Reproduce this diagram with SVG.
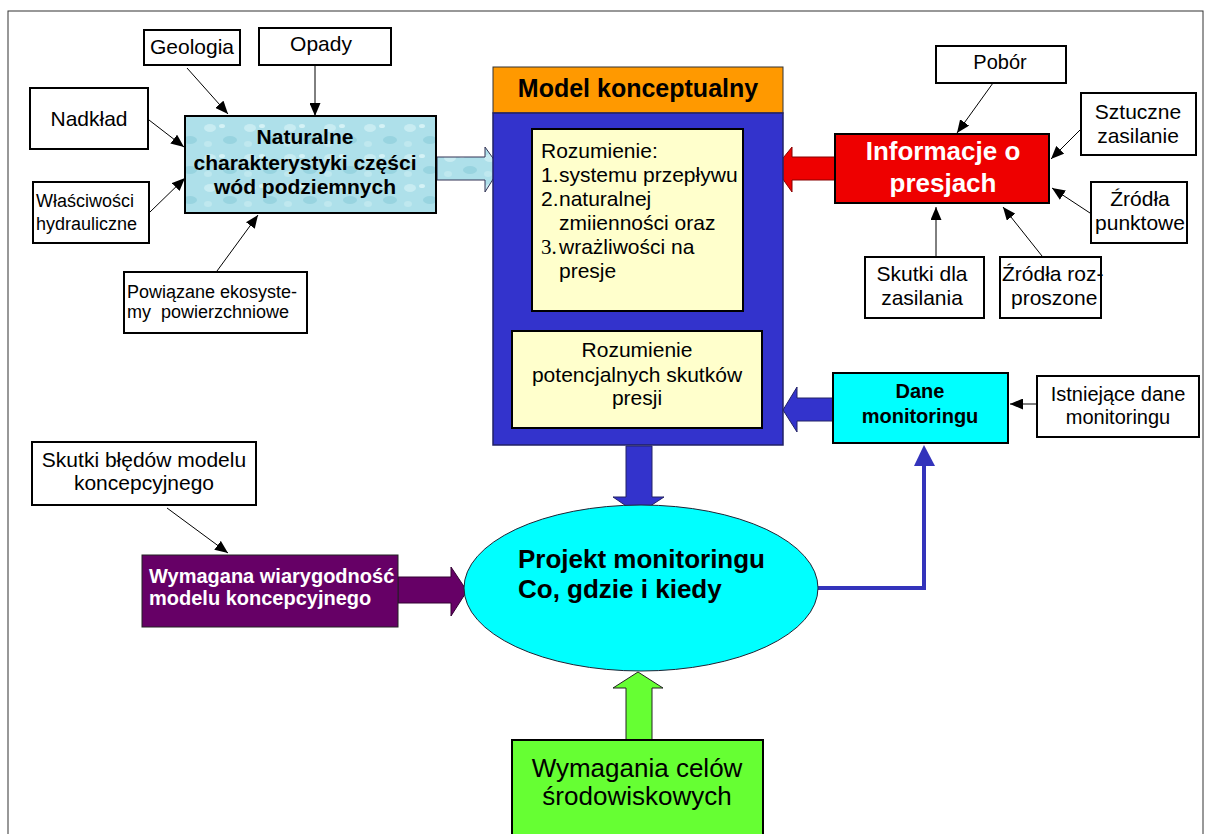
<svg xmlns="http://www.w3.org/2000/svg" width="1206" height="834" viewBox="0 0 1206 834">
<style>
.t{font-family:"Liberation Sans",Arial,sans-serif;fill:#000}
.b{font-weight:bold}
.w{fill:#fff}
.box{fill:#fff;stroke:#000;stroke-width:2}
.ln{stroke:#000;stroke-width:1;fill:none}
</style>
<defs>
<marker id="ah" markerUnits="userSpaceOnUse" markerWidth="13" markerHeight="11" refX="13" refY="5.5" orient="auto">
<path d="M0,0 L13,5.5 L0,11 z" fill="#000"/>
</marker>
<pattern id="bub" patternUnits="userSpaceOnUse" width="40" height="30">
<rect width="40" height="30" fill="#aee0ea"/>
<ellipse cx="10" cy="8" rx="6" ry="4" fill="#c8ecf2"/>
<ellipse cx="30" cy="20" rx="7" ry="4" fill="#98d4e0"/>
<ellipse cx="22" cy="6" rx="3" ry="2" fill="#d4f2f6"/>
<ellipse cx="8" cy="24" rx="4" ry="3" fill="#bfe8ef"/>
</pattern>
</defs>
<rect x="8" y="11" width="1195" height="840" fill="none" stroke="#333" stroke-width="1"/>

<g id="connectors">
<line class="ln" x1="187" y1="68" x2="228" y2="114" marker-end="url(#ah)"/>
<line class="ln" x1="315" y1="65" x2="315" y2="116" marker-end="url(#ah)"/>
<line class="ln" x1="149" y1="120" x2="184" y2="147" marker-end="url(#ah)"/>
<line class="ln" x1="150" y1="212" x2="185" y2="178" marker-end="url(#ah)"/>
<line class="ln" x1="217" y1="271" x2="258" y2="215" marker-end="url(#ah)"/>
<line class="ln" x1="993" y1="83" x2="957" y2="133" marker-end="url(#ah)"/>
<line class="ln" x1="1083" y1="127" x2="1051" y2="159" marker-end="url(#ah)"/>
<line class="ln" x1="1090" y1="213" x2="1052" y2="188" marker-end="url(#ah)"/>
<line class="ln" x1="936" y1="257" x2="936" y2="207" marker-end="url(#ah)"/>
<line class="ln" x1="1042" y1="256" x2="1003" y2="207" marker-end="url(#ah)"/>
<line class="ln" x1="1037" y1="404" x2="1010" y2="404" marker-end="url(#ah)"/>
<line class="ln" x1="167" y1="508" x2="228" y2="553" marker-end="url(#ah)"/>
<polyline points="818,588 924,588 924,464" fill="none" stroke="#3333bb" stroke-width="4"/>
<polygon points="914,466 924,445 935,466" fill="#3333bb"/>
<polygon points="437,157 485,157 485,147 500,168 485,192 485,180 437,180" fill="url(#bub)" stroke="#335" stroke-width="1"/>
<polygon points="835,157 792,157 792,147 775,168 792,192 792,180 835,180" fill="#ee0000" stroke="#800" stroke-width="1"/>
<polygon points="833,398 797,398 797,387 783,410 797,432 797,421 833,421" fill="#3333cc" stroke="#226" stroke-width="1"/>
<polygon points="626,446 652,446 652,497 664,497 638,514 613,497 626,497" fill="#3333cc" stroke="#226" stroke-width="1"/>
<polygon points="398,577 451,577 451,567 467,591 451,616 451,603 398,603" fill="#660066" stroke="#303" stroke-width="1"/>
<polygon points="626,740 626,688 613,688 638,672 663,688 652,688 652,740" fill="#66ff33" stroke="#222" stroke-width="1"/>
</g>

<g id="geologia"><rect class="box" x="144" y="30" width="96" height="35"/><text class="t" x="192" y="54" font-size="21" text-anchor="middle">Geologia</text></g>
<g id="opady"><rect class="box" x="259" y="28" width="132" height="37"/><text class="t" x="321" y="51" font-size="21" text-anchor="middle">Opady</text></g>
<g id="nadklad"><rect class="box" x="30" y="88" width="118" height="61"/><text class="t" x="89" y="126" font-size="21" text-anchor="middle">Nadkład</text></g>
<g id="wlasciwosci"><rect class="box" x="33" y="182" width="116" height="61"/><text class="t" x="36" y="207" font-size="18">Właściwości</text><text class="t" x="36" y="230" font-size="18">hydrauliczne</text></g>
<g id="powiazane"><rect class="box" x="124" y="272" width="183" height="61"/><text class="t" x="127" y="298" font-size="18">Powiązane ekosyste-</text><text class="t" x="127" y="318" font-size="18" xml:space="preserve">my  powierzchniowe</text></g>
<g id="naturalne"><rect x="185" y="116" width="251" height="97" fill="url(#bub)" stroke="#000" stroke-width="2"/>
<text class="t b" x="305" y="144" font-size="21" text-anchor="middle">Naturalne</text>
<text class="t b" x="305" y="170" font-size="21" text-anchor="middle">charakterystyki części</text>
<text class="t b" x="305" y="194" font-size="21" text-anchor="middle">wód podziemnych</text></g>

<g id="model">
<rect x="493" y="67" width="290" height="46" fill="#ff9900" stroke="#333" stroke-width="1"/>
<rect x="493" y="113" width="290" height="332" fill="#3333cc" stroke="#222266" stroke-width="1.5"/>
<text class="t b" x="638" y="97" font-size="25" text-anchor="middle">Model konceptualny</text>
</g>
<g id="rozumienie1"><rect x="532" y="129" width="211" height="182" fill="#ffffcc" stroke="#000" stroke-width="2"/>
<text class="t" x="541" y="158" font-size="21">Rozumienie:</text>
<text class="t" x="541" y="182" font-size="21">1.</text><text class="t" x="559" y="182" font-size="21">systemu przepływu</text>
<text class="t" x="541" y="206" font-size="21">2.</text><text class="t" x="559" y="206" font-size="21">naturalnej</text>
<text class="t" x="559" y="230" font-size="21">zmiienności oraz</text>
<text x="541" y="254" font-size="21" font-family="Liberation Serif,serif">3.</text><text class="t" x="559" y="254" font-size="21">wrażliwości na</text>
<text class="t" x="559" y="278" font-size="21">presje</text></g>
<g id="rozumienie2"><rect x="512" y="331" width="250" height="97" fill="#ffffcc" stroke="#000" stroke-width="2"/>
<text class="t" x="637" y="357" font-size="21" text-anchor="middle">Rozumienie</text>
<text class="t" x="637" y="382" font-size="21" text-anchor="middle">potencjalnych skutków</text>
<text class="t" x="637" y="405" font-size="21" text-anchor="middle">presji</text></g>

<g id="informacje"><rect x="835" y="134" width="214" height="69" fill="#ee0000" stroke="#000" stroke-width="2"/>
<text class="t b w" x="943" y="160" font-size="26" text-anchor="middle">Informacje o</text>
<text class="t b w" x="943" y="192" font-size="26" text-anchor="middle">presjach</text></g>
<g id="pobor"><rect class="box" x="936" y="46" width="130" height="37"/><text class="t" x="1000" y="69" font-size="20" text-anchor="middle">Pobór</text></g>
<g id="sztuczne"><rect class="box" x="1081" y="93" width="115" height="62"/><text class="t" x="1138" y="119" font-size="21" text-anchor="middle">Sztuczne</text><text class="t" x="1138" y="143" font-size="21" text-anchor="middle">zasilanie</text></g>
<g id="punktowe"><rect class="box" x="1091" y="182" width="96" height="61"/><text class="t" x="1140" y="206" font-size="21" text-anchor="middle">Źródła</text><text class="t" x="1140" y="230" font-size="21" text-anchor="middle">punktowe</text></g>
<g id="skutki-zasilania"><rect class="box" x="865" y="257" width="119" height="61"/><text class="t" x="922" y="281" font-size="21" text-anchor="middle">Skutki dla</text><text class="t" x="922" y="305" font-size="21" text-anchor="middle">zasilania</text></g>
<g id="rozproszone"><rect class="box" x="1000" y="257" width="101" height="61"/><text class="t" x="1002" y="281" font-size="21">Źródła roz-</text><text class="t" x="1011" y="305" font-size="21">proszone</text></g>

<g id="dane"><rect x="833" y="373" width="175" height="70" fill="#00ffff" stroke="#000" stroke-width="2"/>
<text class="t b" x="920" y="398" font-size="20" text-anchor="middle">Dane</text>
<text class="t b" x="920" y="423" font-size="20" text-anchor="middle">monitoringu</text></g>
<g id="istniejace"><rect class="box" x="1037" y="376" width="162" height="61"/>
<text class="t" x="1118" y="401" font-size="20" text-anchor="middle">Istniejące dane</text>
<text class="t" x="1118" y="424" font-size="20" text-anchor="middle">monitoringu</text></g>

<g id="skutki-bledow"><rect class="box" x="32" y="442" width="224" height="63"/>
<text class="t" x="144" y="467" font-size="21" text-anchor="middle">Skutki błędów modelu</text>
<text class="t" x="144" y="490" font-size="21" text-anchor="middle">koncepcyjnego</text></g>
<g id="wiarygodnosc"><rect x="142" y="555" width="256" height="72" fill="#660066" stroke="#222" stroke-width="1"/>
<text class="t b w" x="149" y="583" font-size="20">Wymagana wiarygodność</text>
<text class="t b w" x="149" y="605" font-size="20">modelu koncepcyjnego</text></g>

<g id="projekt"><ellipse cx="641" cy="588" rx="177" ry="83" fill="#00ffff" stroke="#223" stroke-width="1"/>
<text class="t b" x="518" y="568" font-size="26">Projekt monitoringu</text>
<text class="t b" x="518" y="598" font-size="26">Co, gdzie i kiedy</text></g>

<g id="wymagania"><rect x="512" y="740" width="251" height="110" fill="#66ff33" stroke="#000" stroke-width="2"/>
<text class="t" x="637" y="777" font-size="26" text-anchor="middle">Wymagania celów</text>
<text class="t" x="637" y="805" font-size="26" text-anchor="middle">środowiskowych</text></g>
</svg>
